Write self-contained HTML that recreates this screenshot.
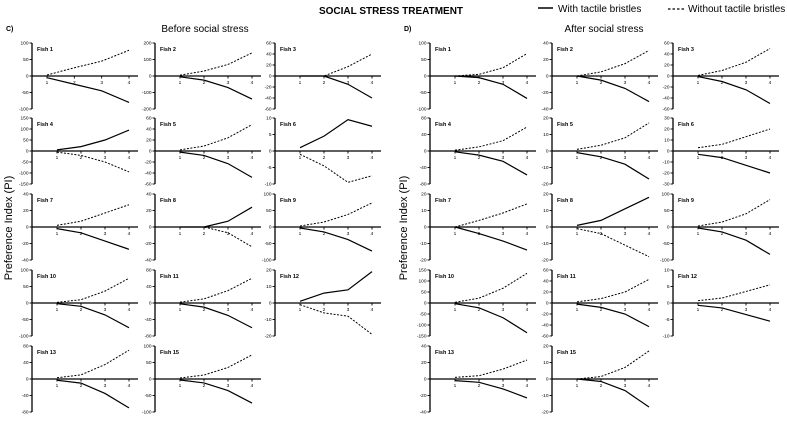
<!DOCTYPE html>
<html><head><meta charset="utf-8"><style>
html,body{margin:0;padding:0;background:#fff;}
svg{display:block;font-family:"Liberation Sans",sans-serif;}
</style></head><body>
<svg id="fig" width="787" height="421" viewBox="0 0 787 421" xmlns="http://www.w3.org/2000/svg">
<text x="391" y="14" font-size="10" font-weight="bold" text-anchor="middle">SOCIAL STRESS TREATMENT</text>
<g>
<line x1="538" y1="8" x2="553" y2="8" stroke="#000" stroke-width="1.5"/>
<text x="558" y="12" font-size="10">With tactile bristles</text>
<line x1="668" y1="9" x2="685" y2="9" stroke="#000" stroke-width="1.2" stroke-dasharray="2.5,2"/>
<text x="688" y="12" font-size="10">Without tactile bristles</text>
</g>
<text x="6" y="31" font-size="7" font-weight="bold">C)</text>
<text x="205" y="32" font-size="10" text-anchor="middle">Before social stress</text>
<text x="404" y="31" font-size="7" font-weight="bold">D)</text>
<text x="604" y="32" font-size="10" text-anchor="middle">After social stress</text>
<text transform="translate(12,228) rotate(-90)" font-size="11" text-anchor="middle">Preference Index (PI)</text>
<text transform="translate(407,228) rotate(-90)" font-size="11" text-anchor="middle">Preference Index (PI)</text>
<g id="panels"></g>
</svg>
<script>
const fishNames = [1,2,3,4,5,6,7,8,9,10,11,12,13,15];
const xValues = [1,2,3,4];
const rangeC = [100,200,60,150,60,10,40,40,100,100,80,20,80,100];
const stepC = [50,100,20,50,20,5,20,20,50,50,40,10,40,50];
const solidC = [[-5,-25,-45,-80],[-5,-25,-70,-140],[0,0,-15,-40],[5,20,50,95],[-2,-8,-23,-48],[1,4.5,9.5,7.5],[-2,-7,-17,-27],[0,0,7,24],[-3,-15,-38,-73],[-2,-10,-36,-75],[-2,-10,-30,-60],[1,6,8,19],[-3,-10,-35,-70],[-3,-12,-35,-73]];
const dashC = [[3,25,45,78],[5,30,70,140],[0,0,17,40],[-5,-20,-50,-95],[2,9,24,48],[-1,-4.5,-9.5,-7.5],[2,7,17,27],[0,0,-7,-24],[3,15,38,73],[2,10,36,75],[2,10,30,60],[-1,-6,-8,-19],[3,10,35,70],[3,12,35,73]];
const rangeD = [100,40,60,80,20,30,20,20,100,150,60,10,40,20];
const stepD = [50,20,20,40,10,10,10,10,50,50,20,5,20,10];
const solidD = [[0,-5,-25,-68],[0,-5,-15,-31],[-1,-10,-25,-50],[-2,-10,-25,-58],[-1,-3.5,-8,-17],[-3,-6,-13,-20],[0,-4,-8.5,-14],[1,4,11,18],[-3,-15,-40,-83],[-3,-22,-67,-135],[-2,-8,-20,-43],[-0.7,-1.5,-3.5,-5.5],[-2,-4,-12,-23],[0,-1.5,-7,-17]];
const dashD = [[0,5,25,68],[0,5,15,31],[1,10,25,50],[2,10,25,58],[1,3.5,8,17],[3,6,13,20],[0,4,8.5,14],[-1,-4,-11,-18],[3,15,40,83],[3,22,67,135],[2,8,20,43],[0.7,1.5,3.5,5.5],[2,4,12,23],[0,1.5,7,17]];

const NS='http://www.w3.org/2000/svg';
const root=document.getElementById('panels');
function mk(tag,attrs,parent){const e=document.createElementNS(NS,tag);for(const k in attrs)e.setAttribute(k,attrs[k]);parent.appendChild(e);return e;}
const rowTops=[43,118,194,270,346];
const PH=66;
function drawSet(prefix, colX, ranges, steps, solids, dashes){
  fishNames.forEach((f,i)=>{
    const col=i%3,row=Math.floor(i/3);
    const ax=colX[col], top=rowTops[row], bot=top+PH;
    const R=ranges[i];
    const yS=v=>top+(R-v)/(2*R)*PH;
    const odd=(prefix==='c'&&i===0);
    const t1=ax+(odd?15:25), t4=ax+97;
    const xS=v=>t1+(v-1)*(t4-t1)/3;
    const g=mk('g',{},root);
    
    
    const ya=mk('line',{x1:ax,y1:top,x2:ax,y2:bot,stroke:'#000','stroke-width':1.3},g);
    
    
    for(let v=-R;v<=R+1e-9;v+=steps[i]){
      const y=yS(v);
      const tk=mk('line',{x1:ax-2.5,y1:y,x2:ax,y2:y,stroke:'#000','stroke-width':0.9},g);
      
      
      const tl=mk('text',{x:ax-3.5,y:y+1.7,'font-size':4.8,'text-anchor':'end'},g);
      
      
      tl.textContent=String(Math.round(v*10)/10);
    }
    const y0=yS(0);
    const xa=mk('line',{x1:ax,y1:y0,x2:ax+106,y2:y0,stroke:'#000','stroke-width':1.3},g);
    
    
    xValues.forEach(xv=>{
      const x=xS(xv);
      const tk=mk('line',{x1:x,y1:y0,x2:x,y2:y0+2.5,stroke:'#000','stroke-width':0.9},g);
      
      
      const tl=mk('text',{x:x,y:y0+8,'font-size':4.8,'text-anchor':'middle'},g);
      
      
      tl.textContent=xv;
    });
    const lbl=mk('text',{x:ax+5,y:top+8,'font-size':5.5,'font-weight':'bold'},g);
    
    
    lbl.textContent='Fish '+f;
    const ps=xValues.map((xv,k)=>xS(xv)+','+yS(solids[i][k])).join(' ');
    const sl=mk('polyline',{points:ps,fill:'none',stroke:'#000','stroke-width':1.2},g);
    
    
    const pd=xValues.map((xv,k)=>xS(xv)+','+yS(dashes[i][k])).join(' ');
    const dl=mk('polyline',{points:pd,fill:'none',stroke:'#000','stroke-width':1,'stroke-dasharray':'2,1.5'},g);
    
    
  });
}
drawSet('c',[32,155,275],rangeC,stepC,solidC,dashC);
drawSet('d',[430,552,673],rangeD,stepD,solidD,dashD);
</script>
</body></html>
